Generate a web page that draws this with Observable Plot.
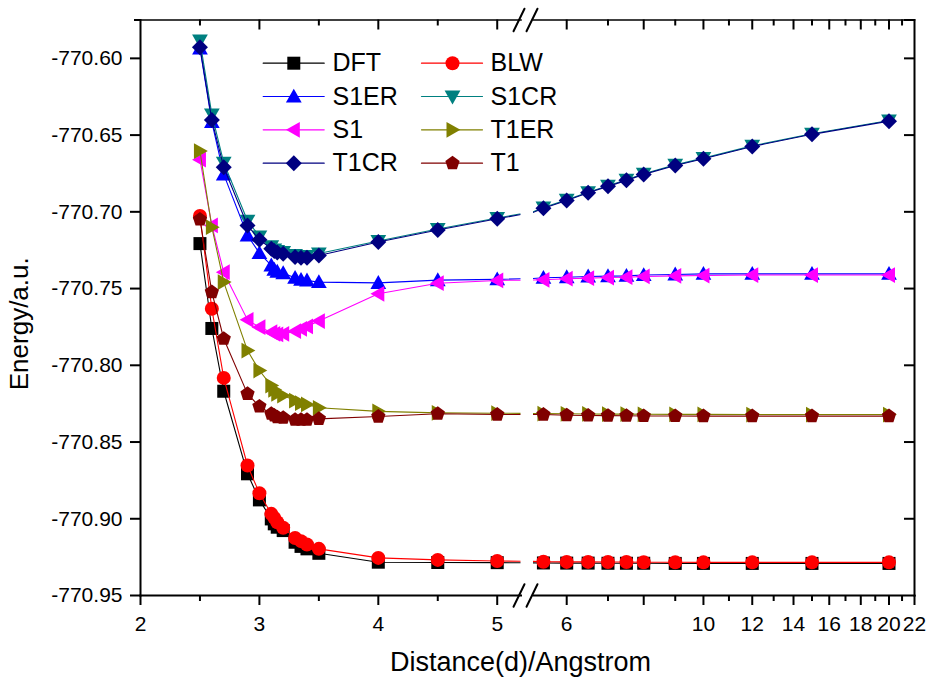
<!DOCTYPE html>
<html><head><meta charset="utf-8">
<script src="https://cdn.jsdelivr.net/npm/d3@7"></script>
<script src="https://cdn.jsdelivr.net/npm/@observablehq/plot@0.6"></script>
<style>
body{margin:0;background:#fff;}
#chart{position:relative;width:928px;height:677px;}
#chart svg{position:absolute;left:0;top:0;}
</style></head><body><div id="chart"></div>
<script>
// ---------- data ----------
const distance = [2.5, 2.6, 2.7, 2.9, 3.0, 3.1, 3.125, 3.15, 3.2, 3.3, 3.35, 3.4, 3.5, 4.0, 4.5, 5.0,
                  5.5, 6, 6.5, 7, 7.5, 8, 9, 10, 12, 15, 20];
const seriesNames = ["DFT", "BLW", "S1ER", "S1CR", "S1", "T1ER", "T1CR", "T1"];
const DFT  = [-770.7207, -770.7760, -770.8169, -770.8707, -770.8877, -770.9001, -770.9033, -770.9055, -770.9077, -770.9153, -770.9180, -770.9196, -770.9225, -770.9283, -770.9285, -770.9286,
              -770.9288, -770.9289, -770.9289, -770.9290, -770.9290, -770.9290, -770.9291, -770.9291, -770.9291, -770.9291, -770.9291];
const BLW  = [-770.7027, -770.7632, -770.8082, -770.8653, -770.8834, -770.8968, -770.8994, -770.9023, -770.9059, -770.9125, -770.9146, -770.9168, -770.9196, -770.9255, -770.9268, -770.9275,
              -770.9280, -770.9281, -770.9281, -770.9282, -770.9282, -770.9283, -770.9283, -770.9284, -770.9284, -770.9284, -770.9284];
const S1ER = [-770.5935, -770.6415, -770.6756, -770.7154, -770.7269, -770.7349, -770.7377, -770.7390, -770.7400, -770.7430, -770.7443, -770.7447, -770.7458, -770.7463, -770.7445, -770.7440,
              -770.7430, -770.7426, -770.7421, -770.7419, -770.7417, -770.7412, -770.7408, -770.7404, -770.7404, -770.7404, -770.7404];
const S1CR = [-770.5884, -770.6365, -770.6680, -770.7058, -770.7160, -770.7225, -770.7245, -770.7255, -770.7262, -770.7282, -770.7287, -770.7287, -770.7272, -770.7190, -770.7112, -770.7040,
              -770.6972, -770.6922, -770.6872, -770.6830, -770.6791, -770.6752, -770.6694, -770.6650, -770.6570, -770.6491, -770.6405];
const S1   = [-770.6660, -770.7089, -770.7393, -770.7704, -770.7752, -770.7784, -770.7795, -770.7799, -770.7795, -770.7778, -770.7762, -770.7747, -770.7712, -770.7534, -770.7465, -770.7447,
              -770.7443, -770.7436, -770.7432, -770.7428, -770.7426, -770.7421, -770.7417, -770.7415, -770.7412, -770.7412, -770.7412];
const T1ER = [-770.6604, -770.7100, -770.7458, -770.7904, -770.8034, -770.8132, -770.8160, -770.8186, -770.8197, -770.8230, -770.8247, -770.8255, -770.8277, -770.8300, -770.8310, -770.8312,
              -770.8315, -770.8316, -770.8317, -770.8318, -770.8318, -770.8319, -770.8320, -770.8320, -770.8321, -770.8321, -770.8321];
const T1CR = [-770.5927, -770.6402, -770.6709, -770.7089, -770.7182, -770.7240, -770.7256, -770.7265, -770.7273, -770.7295, -770.7299, -770.7299, -770.7284, -770.7197, -770.7118, -770.7045,
              -770.6976, -770.6926, -770.6876, -770.6834, -770.6795, -770.6756, -770.6698, -770.6654, -770.6574, -770.6495, -770.6409];
const T1   = [-770.7050, -770.7523, -770.7827, -770.8186, -770.8268, -770.8316, -770.8327, -770.8338, -770.8342, -770.8355, -770.8355, -770.8355, -770.8349, -770.8334, -770.8316, -770.8321,
              -770.8321, -770.8325, -770.8327, -770.8328, -770.8329, -770.8330, -770.8330, -770.8331, -770.8331, -770.8331, -770.8331];

const yTicks = [-770.95, -770.90, -770.85, -770.80, -770.75, -770.70, -770.65, -770.60];
const yMinorTicks = [-770.925, -770.875, -770.825, -770.775, -770.725, -770.675, -770.625, -770.575];
const xTicksLeft = [2, 3, 4, 5];
const xMinorLeft = [2.5, 3.5, 4.5];
const xTicksRight = [6, 8, 10, 12, 14, 16, 18, 20, 22];
const xMinorRight = [7, 9, 11, 13, 15, 17, 19, 21];
const xLabel = "Distance(d)/Angstrom";
const yLabel = "Energy/a.u.";

// ---------- styles ----------
const colors = ["#000000", "#ff0000", "#0000ff", "#008080", "#ff00ff", "#808000", "#000080", "#800000"];
const poly = pts => ({draw(ctx, size) {
  const h = Math.sqrt(size / Math.PI);
  ctx.moveTo(pts[0][0] * h, pts[0][1] * h);
  for (let i = 1; i < pts.length; ++i) ctx.lineTo(pts[i][0] * h, pts[i][1] * h);
  ctx.closePath();
}});
const symCircle = {draw(ctx, size) { const h = Math.sqrt(size / Math.PI); ctx.moveTo(h, 0); ctx.arc(0, 0, h, 0, 2 * Math.PI); }};
const pent = [0, 1, 2, 3, 4].map(k => [Math.sin(2 * Math.PI * k / 5), -Math.cos(2 * Math.PI * k / 5)]);
const symbols = [
  poly([[-1, -1], [1, -1], [1, 1], [-1, 1]]),
  symCircle,
  poly([[0, -1.05], [1.05, 0.8], [-1.05, 0.8]]),
  poly([[0, 1.05], [1.05, -0.8], [-1.05, -0.8]]),
  poly([[-1.05, 0], [0.8, -1.05], [0.8, 1.05]]),
  poly([[1.05, 0], [-0.8, -1.05], [-0.8, 1.05]]),
  poly([[0, -1], [1, 0], [0, 1], [-1, 0]]),
  poly(pent)
];
const radii = [6.5, 7, 7.5, 7.5, 7.5, 7.5, 8, 7.5];
const segment = {draw(ctx, l) { ctx.moveTo(0, 0); ctx.lineTo(0, -l); }};

const W = 928, H = 677, MT = 19.5, MB = 82, PH = H - MT - MB;
const ML1 = 140, MR1 = 407.5, PW1 = W - ML1 - MR1;
const ML2 = 533, MR2 = 14, PW2 = W - ML2 - MR2;
const font = "'Liberation Sans', Arial, Helvetica, sans-serif";
const yDomain = [-770.95, -770.575];

const seriesValues = [DFT, BLW, S1ER, S1CR, S1, T1ER, T1CR, T1];
const rows = seriesNames.map((name, k) => seriesValues[k].map((e, i) => ({series: name, d: distance[i], e})));

// ---------- left panel (linear) ----------
const leftMarks = [
  Plot.frame({anchor: "left", strokeWidth: 2}),
  Plot.frame({anchor: "bottom", strokeWidth: 2}),
  Plot.frame({anchor: "top", strokeWidth: 1.6}),
  Plot.axisY(yTicks, {anchor: "left", tickSize: 10, tickPadding: 8, strokeWidth: 2, fontSize: 21, tickFormat: d => d.toFixed(2), label: null}),
  Plot.tickY(yMinorTicks.filter(v => v > -770.6), {insetLeft: -6, insetRight: PW1, strokeWidth: 2}),
  Plot.axisX(xTicksLeft, {anchor: "bottom", tickSize: 10, tickPadding: 11, strokeWidth: 2, fontSize: 21, tickFormat: d => String(d), label: null}),
  Plot.tickX(xMinorLeft, {insetTop: PH, insetBottom: -6, strokeWidth: 2}),
  Plot.tickX(xTicksLeft.slice(1), {insetBottom: PH - 10, strokeWidth: 2}),
  Plot.tickX(xMinorLeft, {insetBottom: PH - 6, strokeWidth: 2}),
  // axis break marks
  Plot.vector([0], {frameAnchor: "top-left", dx: 378.5, rotate: 26, length: 25, anchor: "middle", shape: segment, stroke: "black", strokeWidth: 2}),
  Plot.vector([0], {frameAnchor: "top-left", dx: 391.5, rotate: 26, length: 25, anchor: "middle", shape: segment, stroke: "black", strokeWidth: 2}),
  Plot.vector([0], {frameAnchor: "bottom-left", dx: 378.5, rotate: 26, length: 25, anchor: "middle", shape: segment, stroke: "black", strokeWidth: 2}),
  Plot.vector([0], {frameAnchor: "bottom-left", dx: 391.5, rotate: 26, length: 25, anchor: "middle", shape: segment, stroke: "black", strokeWidth: 2}),
  // axis titles
  Plot.text([yLabel], {frameAnchor: "left", dx: -121, dy: 16, rotate: -90, fontSize: 26, textAnchor: "middle", lineAnchor: "middle", fill: "black"}),
  Plot.text([xLabel], {frameAnchor: "bottom-left", dx: 380, dy: 67, fontSize: 27, textAnchor: "middle", lineAnchor: "middle", fill: "black"})
];
seriesNames.forEach((name, k) => {
  leftMarks.push(
    Plot.line(rows[k].filter(r => r.d <= 5.5), {x: "d", y: "e", stroke: colors[k], strokeWidth: 1.1, clip: true}),
    Plot.dot(rows[k].filter(r => r.d <= 5), {x: "d", y: "e", r: radii[k], symbol: symbols[k], fill: colors[k], stroke: "none"})
  );
});
// legend
const legCols = [{line: 122.7, mark: 153.3, text: 192}, {line: 281, mark: 312, text: 350}];
const legRows = [43.2, 76.5, 109.8, 143.2];
seriesNames.forEach((name, k) => {
  const c = legCols[k % 2], dy = legRows[Math.floor(k / 2)];
  leftMarks.push(
    Plot.vector([0], {frameAnchor: "top-left", dx: c.line, dy, rotate: 90, length: 61, anchor: "start", shape: segment, stroke: colors[k], strokeWidth: 1.2}),
    Plot.dot([0], {frameAnchor: "top-left", dx: c.mark, dy, r: radii[k], symbol: symbols[k], fill: colors[k], stroke: "none"}),
    Plot.text([name], {frameAnchor: "top-left", dx: c.text, dy, text: d => d, textAnchor: "start", lineAnchor: "middle", fontSize: 25, fill: "black"})
  );
});

const left = Plot.plot({
  width: W, height: H, marginLeft: ML1, marginRight: MR1, marginTop: MT, marginBottom: MB,
  style: {fontFamily: font, color: "black", background: "white"},
  x: {type: "linear", domain: [2, 5.2], label: null},
  y: {domain: yDomain, label: null},
  marks: leftMarks
});

// ---------- right panel (log) ----------
const rightMarks = [
  Plot.frame({anchor: "right", strokeWidth: 2}),
  Plot.frame({anchor: "bottom", strokeWidth: 2}),
  Plot.frame({anchor: "top", strokeWidth: 1.6}),
  Plot.axisX(xTicksRight, {anchor: "bottom", tickSize: 10, tickPadding: 11, strokeWidth: 2, fontSize: 21, tickFormat: d => String(d), label: null}),
  Plot.tickX(xMinorRight, {insetTop: PH, insetBottom: -6, strokeWidth: 2}),
  Plot.tickX(xTicksRight.slice(0, -1), {insetBottom: PH - 10, strokeWidth: 2}),
  Plot.tickX(xMinorRight, {insetBottom: PH - 6, strokeWidth: 2}),
  Plot.tickY(yTicks.slice(1), {insetLeft: PW2 - 10, strokeWidth: 2}),
  Plot.tickY(yMinorTicks.filter(v => v > -770.6), {insetLeft: PW2 - 10, strokeWidth: 2})
];
seriesNames.forEach((name, k) => {
  rightMarks.push(
    Plot.line(rows[k].filter(r => r.d >= 5), {x: "d", y: "e", stroke: colors[k], strokeWidth: 1.1, clip: true}),
    Plot.dot(rows[k].filter(r => r.d >= 5.5), {x: "d", y: "e", r: radii[k], symbol: symbols[k], fill: colors[k], stroke: "none"})
  );
});
const right = Plot.plot({
  width: W, height: H, marginLeft: ML2, marginRight: MR2, marginTop: MT, marginBottom: MB,
  style: {fontFamily: font, color: "black", background: "transparent"},
  x: {type: "log", domain: [5.3, 22], label: null},
  y: {domain: yDomain, label: null, axis: null},
  marks: rightMarks
});

const chart = document.getElementById("chart");
chart.append(left, right);
</script>
</body></html>
